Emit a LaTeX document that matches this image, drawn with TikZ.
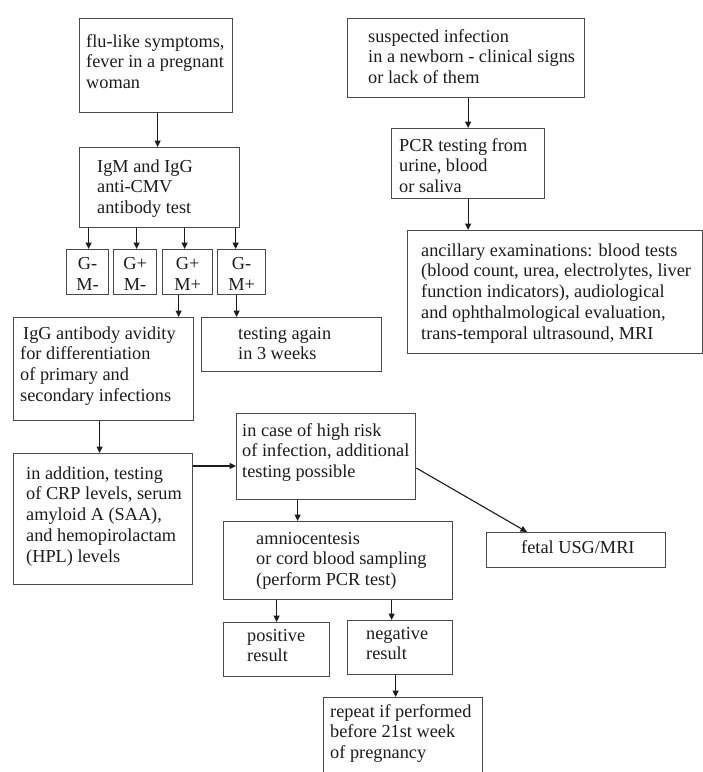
\documentclass[tikz,border=0pt]{standalone}
\usepackage{fontspec}
\setmainfont{Liberation Serif}
\usetikzlibrary{arrows.meta}
\definecolor{boxline}{HTML}{4A4A4A}
\definecolor{ink}{HTML}{1C1C1C}
\tikzset{
  box/.style={draw=boxline, line width=1.3pt, inner sep=0pt, anchor=north west, fill=white},
  txt/.style={text=ink, inner sep=0pt, anchor=base west, align=left,
    font=\fontsize{18.3pt}{20.8pt}\selectfont},
  ctxt/.style={text=ink, inner sep=0pt, align=center,
    font=\fontsize{18.3pt}{21.5pt}\selectfont},
  arr/.style={draw=ink, line width=1.1pt, -{Triangle[length=6.5pt,width=6pt]}},
}
\newcommand{\bx}[5]{\node[box, minimum width=#4pt, minimum height=#5pt] (#1) at (#2,#3) {};}
\begin{document}
\begin{tikzpicture}[x=1pt,y=-1pt]
\useasboundingbox (0,0) rectangle (703,772);
\clip (0,0) rectangle (703,772);
\fill[white] (0,0) rectangle (703,772);
% boxes
\bx{flu}{79}{18}{153}{94}
\bx{igm}{79}{147}{160}{80}
\bx{ga}{66}{249}{42}{45}
\bx{gb}{113}{249}{43}{45}
\bx{gc}{162}{249}{50}{45}
\bx{gd}{217}{249}{48}{45}
\bx{avid}{13}{317}{180}{103}
\bx{again}{201}{317}{180}{54}
\bx{addn}{13}{453}{179}{131}
\bx{case}{236}{413}{179}{86}
\bx{amnio}{223}{521}{229}{78}
\bx{fetal}{486}{532}{179}{35}
\bx{pos}{223}{622}{106}{54}
\bx{neg}{347}{620}{105}{54}
\bx{rep}{323}{697}{159}{100}
\bx{susp}{347}{18}{237}{79}
\bx{pcr}{391}{128}{153}{70}
\bx{anc}{407}{230}{295}{123}
% texts (anchor = baseline of last line)
\node[txt] (flut) at (86,88.6) {flu-like symptoms,\\fever in a pregnant\\woman};
\node[txt] (igmt) at (97,213.6) {IgM and IgG\\anti-CMV\\antibody test};
\node[ctxt] (gat) at ([yshift=-2pt]ga.center) {G-\\M-};
\node[ctxt] (gbt) at ([yshift=-2pt]gb.center) {G+\\M-};
\node[ctxt] (gct) at ([yshift=-2pt]gc.center) {G+\\M+};
\node[ctxt] (gdt) at ([yshift=-2pt]gd.center) {G-\\M+};
\node[txt] (avidt) at (20,401.4) {\hspace{3pt}IgG antibody avidity\\for differentiation\\of primary and\\secondary infections};
\node[txt] (againt) at (238,359.8) {testing again\\in 3 weeks};
\node[txt] (addnt) at (26,562.2) {in addition, testing\\of CRP levels, serum\\amyloid A (SAA),\\and hemopirolactam\\(HPL) levels};
\node[txt] (caset) at (242,477.6) {in case of high risk\\of infection, additional\\testing possible};
\node[txt] (amniot) at (256,585.6) {amniocentesis\\or cord blood sampling\\(perform PCR test)};
\node[txt] (fetalt) at (521,553) {fetal USG/MRI};
\node[txt] (post) at (247,661.8) {positive\\result};
\node[txt] (negt) at (366,659.8) {negative\\result};
\node[txt] (rept) at (330,758.6) {repeat if performed\\before 21st week\\of pregnancy};
\node[txt] (suspt) at (368,83.6) {suspected infection\\in a newborn - clinical signs\\or lack of them};
\node[txt] (pcrt) at (399,192.6) {PCR testing from\\urine, blood\\or saliva};
\node[txt] (anct) at (421,339.2) {ancillary examinations: blood tests\\(blood count, urea, electrolytes, liver\\function indicators), audiological\\and ophthalmological evaluation,\\trans-temporal ultrasound, MRI};
% connectors
\draw[arr] ([xshift=1.5pt]flu.south) -- ([xshift=1.5pt]flu.south |- igm.north);
\draw[arr] ([xshift=1pt]ga.north |- igm.south) -- ([xshift=1pt]ga.north);
\draw[arr] ([xshift=1.5pt]gb.north |- igm.south) -- ([xshift=1.5pt]gb.north);
\draw[arr] ([xshift=-3pt]gc.north |- igm.south) -- ([xshift=-3pt]gc.north);
\draw[arr] ([xshift=-6pt]gd.north |- igm.south) -- ([xshift=-6pt]gd.north);
\draw[arr] ([xshift=-9pt]gc.south) -- ([xshift=-9pt]gc.south |- avid.north);
\draw[arr] ([xshift=-5pt]gd.south) -- ([xshift=-5pt]gd.south |- again.north);
\draw[arr] ([xshift=-4pt]avid.south) -- ([xshift=-4pt]avid.south |- addn.north);
\draw[arr] ([yshift=-13pt]addn.north east) -- ([yshift=-13pt]addn.north east -| case.west);
\draw[arr] ([xshift=-28.5pt]case.south) -- ([xshift=-28.5pt]case.south |- amnio.north);
\draw[arr] ([yshift=-55pt]case.north east) -- ([xshift=41pt]fetal.north west);
\draw[arr] (pos.north |- amnio.south) -- (pos.north);
\draw[arr] ([xshift=-8.5pt]neg.north |- amnio.south) -- ([xshift=-8.5pt]neg.north);
\draw[arr] ([xshift=-4.5pt]neg.south) -- ([xshift=-4.5pt]neg.south |- rep.north);
\draw[arr] (susp.south -| pcr.north) -- (pcr.north);
\draw[arr] (pcr.south) -- (pcr.south |- anc.north);
\end{tikzpicture}
\end{document}
